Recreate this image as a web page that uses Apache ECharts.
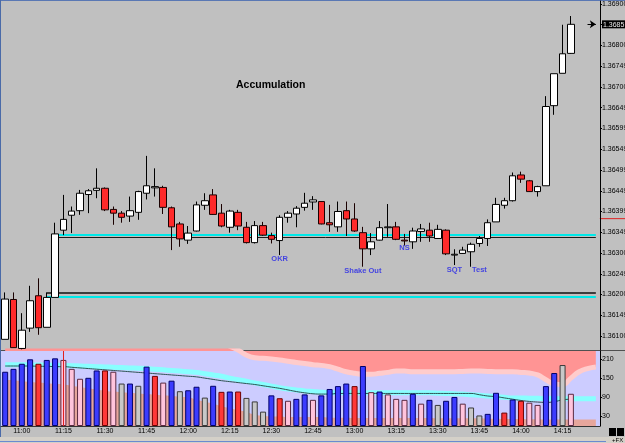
<!DOCTYPE html>
<html>
<head>
<meta charset="utf-8">
<script src="https://cdn.jsdelivr.net/npm/echarts@6/dist/echarts.min.js"></script>
<style>
  html, body { margin: 0; padding: 0; background: #c0c0c0; }
  #chart { width: 625px; height: 443px; }
</style>
</head>
<body>
<div id="chart"></div>
<script>
// 3 minute bars, last three slots are empty space on the right
var categories = [
  '10:54', '10:57', '11:00', '11:03', '11:06', '11:09', '11:12', '11:15', '11:18', '11:21',
  '11:24', '11:27', '11:30', '11:33', '11:36', '11:39', '11:42', '11:45', '11:48', '11:51',
  '11:54', '11:57', '12:00', '12:03', '12:06', '12:09', '12:12', '12:15', '12:18', '12:21',
  '12:24', '12:27', '12:30', '12:33', '12:36', '12:39', '12:42', '12:45', '12:48', '12:51',
  '12:54', '12:57', '13:00', '13:03', '13:06', '13:09', '13:12', '13:15', '13:18', '13:21',
  '13:24', '13:27', '13:30', '13:33', '13:36', '13:39', '13:42', '13:45', '13:48', '13:51',
  '13:54', '13:57', '14:00', '14:03', '14:06', '14:09', '14:12', '14:15', '14:18',
  '14:21', '14:24', '14:27'
]
var timeLabels = ['11:00', '11:15', '11:30', '11:45', '12:00', '12:15', '12:30', '12:45',
  '13:00', '13:15', '13:30', '13:45', '14:00', '14:15']

var opens = [1.36092, 1.36188, 1.36070, 1.36119, 1.36197, 1.36121, 1.36193, 1.36355, 1.36391, 1.36402,
  1.36441, 1.36451, 1.36456, 1.36405, 1.36396, 1.36389, 1.36398, 1.36444, 1.36457, 1.36458,
  1.36409, 1.36370, 1.36331, 1.36353, 1.36415, 1.36440, 1.36396, 1.36362, 1.36398, 1.36362,
  1.36325, 1.36366, 1.36342, 1.36330, 1.36386, 1.36394, 1.36410, 1.36423, 1.36424, 1.36373,
  1.36363, 1.36402, 1.36382, 1.36349, 1.36310, 1.36331, 1.36361, 1.36363, 1.36331, 1.36327,
  1.36352, 1.36355, 1.36335, 1.36355, 1.36295, 1.36299, 1.36303, 1.36323, 1.36335, 1.36375,
  1.36415, 1.36426, 1.36488, 1.36474, 1.36448, 1.36462, 1.36655, 1.36733, 1.36781]
var closes = [1.36189, 1.36072, 1.36114, 1.36185, 1.36120, 1.36193, 1.36346, 1.36381, 1.36401, 1.36444,
  1.36450, 1.36456, 1.36404, 1.36396, 1.36386, 1.36402, 1.36448, 1.36462, 1.36460, 1.36410,
  1.36363, 1.36334, 1.36348, 1.36416, 1.36426, 1.36393, 1.36365, 1.36401, 1.36365, 1.36325,
  1.36366, 1.36343, 1.36333, 1.36386, 1.36396, 1.36408, 1.36420, 1.36428, 1.36370, 1.36368,
  1.36400, 1.36382, 1.36353, 1.36310, 1.36327, 1.36361, 1.36363, 1.36333, 1.36329, 1.36353,
  1.36358, 1.36341, 1.36357, 1.36298, 1.36297, 1.36307, 1.36321, 1.36335, 1.36373, 1.36417,
  1.36426, 1.36486, 1.36478, 1.36448, 1.36460, 1.36653, 1.36732, 1.36780, 1.36851]
var lows = [1.36092, 1.36072, 1.36068, 1.36110, 1.36103, 1.36121, 1.36193, 1.36343, 1.36348, 1.36392,
  1.36396, 1.36432, 1.36401, 1.36368, 1.36373, 1.36375, 1.36380, 1.36429, 1.36436, 1.36394,
  1.36307, 1.36315, 1.36322, 1.36352, 1.36404, 1.36392, 1.36362, 1.36349, 1.36355, 1.36323,
  1.36323, 1.36341, 1.36323, 1.36295, 1.36373, 1.36362, 1.36402, 1.36404, 1.36369, 1.36351,
  1.36351, 1.36341, 1.36351, 1.36267, 1.36295, 1.36330, 1.36339, 1.36331, 1.36318, 1.36310,
  1.36327, 1.36327, 1.36334, 1.36295, 1.36271, 1.36298, 1.36267, 1.36315, 1.36317, 1.36375,
  1.36407, 1.36424, 1.36469, 1.36447, 1.36436, 1.36462, 1.36633, 1.36733, 1.36780]
var highs = [1.36205, 1.36205, 1.36155, 1.36221, 1.36239, 1.36205, 1.36373, 1.36440, 1.36412, 1.36452,
  1.36454, 1.36504, 1.36458, 1.36412, 1.36401, 1.36436, 1.36450, 1.36534, 1.36504, 1.36462,
  1.36412, 1.36375, 1.36365, 1.36424, 1.36444, 1.36454, 1.36418, 1.36404, 1.36404, 1.36375,
  1.36377, 1.36375, 1.36349, 1.36391, 1.36401, 1.36413, 1.36445, 1.36437, 1.36425, 1.36416,
  1.36424, 1.36424, 1.36420, 1.36363, 1.36348, 1.36377, 1.36418, 1.36375, 1.36346, 1.36361,
  1.36370, 1.36373, 1.36368, 1.36357, 1.36309, 1.36315, 1.36325, 1.36341, 1.36381, 1.36433,
  1.36433, 1.36494, 1.36496, 1.36476, 1.36462, 1.36678, 1.36732, 1.36850, 1.36871]

var volumes = [170, 179, 195, 209, 195, 207, 212, 207, 179, 148,
  151, 174, 174, 170, 133, 133, 126, 186, 157, 136,
  142, 109, 112, 123, 89, 126, 107, 108, 108, 88,
  77, 45, 96, 87, 79, 85, 99, 82, 96, 116,
  125, 133, 125, 188, 106, 108, 99, 85, 82, 101,
  70, 82, 66, 79, 91, 70, 58, 33, 38, 104,
  42, 83, 79, 73, 66, 125, 166, 191, 101]
// b = blue, r = red, p = pink, g = gray
var volumeKinds = ['b', 'b', 'b', 'b', 'r', 'b', 'b', 'p', 'p', 'p',
  'b', 'b', 'r', 'p', 'g', 'b', 'g', 'b', 'r', 'p',
  'b', 'g', 'b', 'b', 'g', 'b', 'r', 'b', 'r', 'g',
  'g', 'g', 'b', 'r', 'p', 'b', 'b', 'p', 'b', 'b',
  'b', 'b', 'r', 'b', 'p', 'b', 'p', 'p', 'p', 'b',
  'p', 'b', 'g', 'b', 'b', 'p', 'g', 'g', 'b', 'b',
  'r', 'b', 'r', 'p', 'p', 'b', 'b', 'g', 'p']

var upperBand = [270, 270, 270, 270, 270, 270, 270, 270, 270, 270,
  270, 270, 270, 270, 270, 270, 270, 270, 270, 270,
  270, 270, 270, 270, 270, 270, 262, 250, 238, 222,
  214, 212, 210, 207, 203, 199, 196, 192, 190, 186,
  178, 170, 165, 162, 162, 165, 168, 172, 172, 170,
  170, 170, 170, 170, 170, 171, 172, 172, 171, 170,
  170, 170, 168, 166, 160, 145, 132, 130, 150, 170,
  180, 185]
var lowerBand = [145, 143, 140, 138, 136, 134, 132, 130, 126, 122,
  118, 114, 110, 108, 106, 104, 102, 100, 98, 96,
  94, 92, 90, 82, 76, 70, 62, 56, 50, 44,
  35, 32, 30, 30, 28, 28, 28, 28, 28, 26,
  26, 26, 25, 25, 25, 25, 25, 25, 25, 25,
  25, 25, 24, 24, 24, 24, 24, 24, 23, 23,
  22, 22, 22, 21, 21, 20, 20, 20, 20, 20,
  20, 20]
var cyanBand = [192, 192, 192, 192, 191, 191, 190, 190, 189, 188,
  187, 186, 185, 184, 183, 182, 181, 180, 178, 176,
  174, 172, 170, 168, 164, 160, 156, 150, 145, 140,
  135, 130, 125, 120, 116, 113, 110, 108, 106, 105,
  104, 104, 104, 104, 104, 104, 104, 104, 104, 104,
  104, 104, 103, 102, 101, 100, 98, 96, 94, 92,
  90, 88, 88, 87, 87, 86, 86, 85, 85, 85,
  85, 85]
var volumeAvg = [188, 188, 188, 188, 187, 187, 186, 186, 184, 182,
  180, 178, 176, 174, 172, 170, 168, 166, 164, 162,
  160, 158, 156, 154, 150, 146, 142, 139, 136, 133,
  130, 126, 122, 118, 113, 108, 104, 101, 100, 100,
  102, 102, 102, 102, 102, 102, 102, 102, 102, 102,
  102, 102, 102, 102, 102, 102, 102, 98, 94, 92,
  88, 84, 80, 77, 75, 74, 76, 82, 84]

var priceTicks = [1.361, 1.3615, 1.362, 1.3625, 1.363, 1.3635, 1.364, 1.3645, 1.365,
  1.3655, 1.366, 1.3665, 1.367, 1.3675, 1.368, 1.36851, 1.369]
var priceTickLabels = ['1.36100', '1.36149', '1.36200', '1.36249', '1.36300', '1.36349', '1.36399',
  '1.36449', '1.36499', '1.36549', '1.36599', '1.36649', '1.36700', '1.36749', '1.36800',
  '1.36851', '1.36900']
var currentPrice = 1.36851
var bidPrice = 1.36384
var volumeTicks = [30, 90, 150, 210]

// horizontal levels: upper pair from the breakout bar, lower pair from the base
var levelPrices = [1.36345, 1.36339, 1.36205, 1.36194]
var levelStarts = ['11:12', '11:12', '11:09', '11:09']

var notes = ['OKR', 'Shake Out', 'NS', 'SQT', 'Test']
var noteBars = ['12:33', '13:03', '13:18', '13:36', '13:45']
var notePrices = [1.36286, 1.36257, 1.36312, 1.36259, 1.36259]

// the platform uses a narrow bitmap font, take the narrow face if it is there
function hasFont(name) {
  var ctx = document.createElement('canvas').getContext('2d')
  ctx.font = '20px monospace'
  var w = ctx.measureText('11:00 1.36549').width
  ctx.font = '20px "' + name + '", monospace'
  return ctx.measureText('11:00 1.36549').width !== w
}
var narrow = hasFont('Liberation Sans Narrow')
var FONT = narrow ? '"Liberation Sans Narrow", sans-serif' : '"Liberation Sans", Arial, sans-serif'
var FONT_SIZE = narrow ? 8 : 7

var volumeColors = {
  b: { color: '#3c3cff', borderColor: '#00006a' },
  r: { color: '#ff3838', borderColor: '#700000' },
  p: { color: '#ffc4dc', borderColor: '#5a2a40' },
  g: { color: '#c8c8c8', borderColor: '#3a3a3a' },
}

var myChart = echarts.init(document.getElementById('chart'))

var candleData = opens.map(function (o, i) {
  return [o, closes[i], lows[i], highs[i]]
})
var volumeData = volumes.map(function (v, i) {
  return { value: v, itemStyle: volumeColors[volumeKinds[i]] }
})

var levelStyles = [
  { color: '#00e8e8', width: 2, type: 'solid' },
  { color: '#1a1a1a', width: 1, type: 'solid' },
  { color: '#101010', width: 1.5, type: 'solid' },
  { color: '#00e8e8', width: 2, type: 'solid' },
]
var levelLines = levelPrices.map(function (p, i) {
  return [
    { coord: [levelStarts[i], p], lineStyle: levelStyles[i] },
    { coord: ['14:27', p] },
  ]
})
// price arrow next to the axis
levelLines.push([
  { coord: ['14:24', currentPrice], lineStyle: { color: '#000', width: 1, type: 'solid' } },
  { coord: ['14:27', currentPrice], symbol: 'arrow', symbolSize: 6 },
])

var option = {
  animation: false,
  backgroundColor: '#c0c0c0',
  title: {
    text: 'Accumulation',
    left: 236,
    top: 80,
    padding: 0,
    textStyle: { color: '#000', fontSize: 10.5, fontWeight: 'bold', fontFamily: 'Liberation Sans, Arial, sans-serif' },
  },
  grid: [
    { left: 1, right: 25, top: 1, height: 349, outerBoundsMode: 'none' },
    {
      left: 1, right: 25, top: 351, height: 75, outerBoundsMode: 'none',
      show: true, backgroundColor: '#ccccff', borderWidth: 0,
    },
  ],
  xAxis: [
    {
      type: 'category',
      gridIndex: 0,
      data: categories,
      boundaryGap: true,
      axisLine: { show: false },
      axisTick: { show: false },
      axisLabel: { show: false },
      splitLine: { show: false },
    },
    {
      type: 'category',
      gridIndex: 1,
      data: categories,
      boundaryGap: true,
      axisLine: { show: true, lineStyle: { color: '#333', width: 1 } },
      axisTick: { show: false },
      axisLabel: {
        interval: function (index, value) {
          return timeLabels.indexOf(value) >= 0
        },
        margin: 2,
        color: '#000',
        fontSize: FONT_SIZE,
        fontFamily: FONT,
      },
      splitLine: { show: false },
    },
  ],
  yAxis: [
    {
      type: 'value',
      gridIndex: 0,
      position: 'right',
      min: 1.360663,
      max: 1.369072,
      axisLine: { show: true, onZero: false, lineStyle: { color: '#000', width: 1 } },
      axisTick: { show: true, length: 2, customValues: priceTicks, lineStyle: { color: '#000' } },
      splitLine: { show: false },
      axisLabel: {
        customValues: priceTicks,
        margin: 2,
        color: '#000',
        fontSize: FONT_SIZE,
        fontFamily: FONT,
        formatter: function (value) {
          var k = 0
          for (var i = 0; i < priceTicks.length; i++) {
            if (Math.abs(priceTicks[i] - value) < 1e-7) k = i
          }
          if (priceTicks[k] === currentPrice) {
            return '{cur|' + priceTickLabels[k] + '}'
          }
          return priceTickLabels[k]
        },
        rich: {
          cur: { backgroundColor: '#000', color: '#e8e8e8', fontSize: FONT_SIZE, fontFamily: FONT, padding: [1, 1, 0, 1] },
        },
      },
    },
    {
      type: 'value',
      gridIndex: 1,
      position: 'right',
      min: 0,
      max: 235,
      axisLine: { show: true, onZero: false, lineStyle: { color: '#000', width: 1 } },
      axisTick: { show: true, length: 2, customValues: volumeTicks, lineStyle: { color: '#000' } },
      splitLine: { show: false },
      axisLabel: { customValues: volumeTicks, margin: 2, color: '#000', fontSize: FONT_SIZE, fontFamily: FONT },
    },
  ],
  series: [
    {
      name: 'price',
      type: 'candlestick',
      xAxisIndex: 0,
      yAxisIndex: 0,
      barWidth: 7,
      data: candleData,
      z: 5,
      itemStyle: {
        color: '#ffffff',
        color0: '#ff2a2a',
        borderColor: '#000000',
        borderColor0: '#1a0000',
        borderWidth: 1,
      },
      markLine: {
        silent: true,
        symbol: ['none', 'none'],
        label: { show: false },
        z: 3,
        data: levelLines,
      },
    },
    {
      name: 'notes',
      type: 'scatter',
      xAxisIndex: 0,
      yAxisIndex: 0,
      symbolSize: 0,
      z: 6,
      data: noteBars.map(function (c, i) {
        return { value: [c, notePrices[i]], name: notes[i] }
      }),
      label: {
        show: true,
        position: 'inside',
        formatter: '{b}',
        color: '#2424e8',
        fontSize: 7.5,
        fontWeight: 'bold',
        fontFamily: 'Liberation Sans, Arial, sans-serif',
      },
    },
    // volume panel shading
    {
      name: 'upper',
      type: 'line',
      xAxisIndex: 1,
      yAxisIndex: 1,
      data: upperBand,
      symbol: 'none',
      smooth: true,
      lineStyle: { color: '#ffcccc', width: 5 },
      areaStyle: { origin: 'end', color: '#ff9494', opacity: 1 },
      z: 1,
    },
    {
      name: 'lower',
      type: 'line',
      xAxisIndex: 1,
      yAxisIndex: 1,
      data: lowerBand,
      symbol: 'none',
      smooth: true,
      lineStyle: { width: 0 },
      areaStyle: { origin: 'start', color: '#e6a69c', opacity: 1 },
      z: 1,
    },
    {
      name: 'cyan',
      type: 'line',
      xAxisIndex: 1,
      yAxisIndex: 1,
      data: cyanBand,
      symbol: 'none',
      smooth: true,
      lineStyle: { color: '#88ffff', width: 5 },
      z: 2,
    },
    {
      name: 'avg',
      type: 'line',
      xAxisIndex: 1,
      yAxisIndex: 1,
      data: volumeAvg,
      symbol: 'none',
      smooth: true,
      lineStyle: { color: '#2e5454', width: 1 },
      z: 3,
    },
    {
      name: 'volume',
      type: 'bar',
      xAxisIndex: 1,
      yAxisIndex: 1,
      barWidth: 6,
      data: volumeData,
      itemStyle: { borderWidth: 1 },
      z: 4,
      markLine: {
        silent: true,
        symbol: ['none', 'none'],
        label: { show: false },
        lineStyle: { color: '#e02020', width: 1, type: 'solid' },
        data: [{ xAxis: '11:15' }],
      },
    },
  ],
  graphic: [
    { type: 'rect', shape: { x: 0, y: 350, width: 625, height: 1 }, style: { fill: '#505050' } },
    { type: 'rect', shape: { x: 0, y: 0, width: 625, height: 1 }, style: { fill: '#5a78b4' } },
    { type: 'rect', shape: { x: 0, y: 0, width: 1, height: 437 }, style: { fill: '#4a6aa8' } },
    { type: 'rect', shape: { x: 0, y: 437, width: 625, height: 6 }, style: { fill: '#d4d0c8' } },
    { type: 'rect', shape: { x: 0, y: 441, width: 606, height: 1 }, style: { fill: '#6a8ad0' } },
    { type: 'rect', shape: { x: 609, y: 428, width: 7, height: 8 }, style: { fill: '#000' } },
    { type: 'rect', shape: { x: 617, y: 428, width: 7, height: 8 }, style: { fill: '#000' } },
    { type: 'text', x: 612, y: 437, style: { text: '+FX', fill: '#000', font: '6px ' + FONT } },
  ],
}

myChart.setOption(option)

// red bid mark on the price scale
var bidY = myChart.convertToPixel({ yAxisIndex: 0 }, bidPrice)
var axisX = myChart.convertToPixel({ xAxisIndex: 0 }, '14:27')
myChart.setOption({
  graphic: option.graphic.concat([
    { type: 'rect', shape: { x: axisX + 4, y: bidY, width: 30, height: 1 }, style: { fill: '#e02020' } },
  ]),
})
</script>
</body>
</html>
